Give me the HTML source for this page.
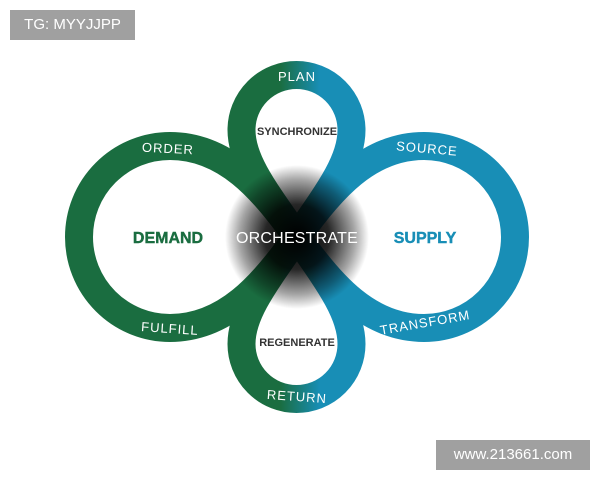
<!DOCTYPE html>
<html><head><meta charset="utf-8"><style>
html,body{margin:0;padding:0;background:#fff;}
body{width:600px;height:480px;position:relative;overflow:hidden;font-family:"Liberation Sans",sans-serif;}
.wm{position:absolute;background:#a0a0a0;color:#fff;font-size:15px;line-height:30px;text-align:center;}
</style></head><body>
<svg width="600" height="480" viewBox="0 0 600 480" style="position:absolute;left:0;top:0">
<defs>
<linearGradient id="g" gradientUnits="userSpaceOnUse" x1="280" y1="0" x2="320" y2="0">
<stop offset="0" stop-color="#1a6d40"/><stop offset="1" stop-color="#188eb6"/>
</linearGradient>
<radialGradient id="r" cx="297" cy="237" r="72" gradientUnits="userSpaceOnUse">
<stop offset="0" stop-color="#000" stop-opacity="1"/>
<stop offset="0.45" stop-color="#000" stop-opacity="0.85"/>
<stop offset="0.8" stop-color="#000" stop-opacity="0.35"/>
<stop offset="1" stop-color="#000" stop-opacity="0"/>
</radialGradient>
</defs>
<g fill="none" stroke="url(#g)" stroke-width="28" stroke-linejoin="round">
<path d="M297 237 C262.6 187.9 225 146 170 146 A91 91 0 1 0 170 328 C225 328 262.6 286.1 297 237 Z"/>
<path d="M297 237 C331.4 187.9 369 146 424 146 A91 91 0 1 1 424 328 C369 328 331.4 286.1 297 237 Z"/>
<path d="M297 237 C331.4 187.9 351.5 160 351.5 130 A55 55 0 1 0 241.5 130 C241.5 160 262.6 187.9 297 237 Z"/>
<path d="M297 237 C331.4 286.1 351.5 314 351.5 344 A55 55 0 1 1 241.5 344 C241.5 314 262.6 286.1 297 237 Z"/>
</g>
<circle cx="297" cy="237" r="72" fill="url(#r)"/>
<g fill="#fff" font-size="13" letter-spacing="1" text-anchor="middle">
<text x="297" y="81">PLAN</text>
<text x="168" y="153" transform="rotate(3 168 148)">ORDER</text>
<text x="427" y="153" transform="rotate(5 427 148)">SOURCE</text>
<text x="170" y="333" transform="rotate(4 170 328)">FULFILL</text>
<text x="425" y="327" transform="rotate(-10 425 322)">TRANSFORM</text>
<text x="297" y="401" transform="rotate(4 297 396)">RETURN</text>
<text x="297" y="243" font-size="16" letter-spacing="0.2">ORCHESTRATE</text>
</g>
<g font-weight="bold" text-anchor="middle">
<text x="168" y="243" font-size="16" fill="#1a6d40" stroke="#1a6d40" stroke-width="0.4">DEMAND</text>
<text x="425" y="243" font-size="16" fill="#188eb6" stroke="#188eb6" stroke-width="0.4">SUPPLY</text>
<text x="297" y="135" font-size="11" fill="#333">SYNCHRONIZE</text>
<text x="297" y="346" font-size="11" fill="#333">REGENERATE</text>
</g>
</svg>
<div class="wm" style="left:10px;top:10px;width:125px;">TG: MYYJJPP</div>
<div class="wm" style="left:436px;top:440px;width:154px;">www.213661.com</div>
</body></html>
